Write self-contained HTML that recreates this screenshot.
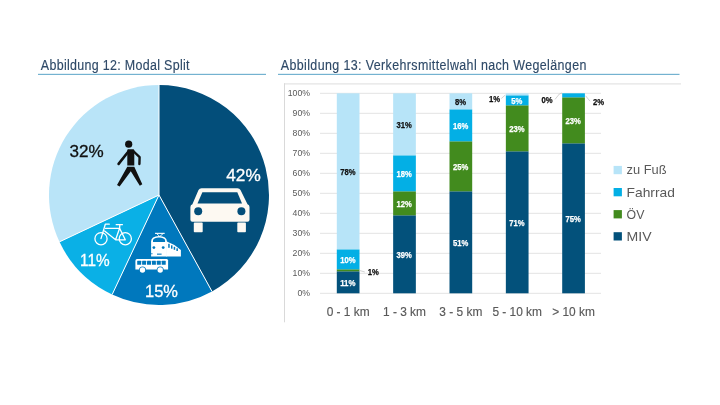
<!DOCTYPE html>
<html><head><meta charset="utf-8"><title>Modal Split</title>
<style>
html,body{margin:0;padding:0;background:#fff;}
body{width:720px;height:405px;overflow:hidden;}
svg{display:block;}
text{font-family:"Liberation Sans",Arial,sans-serif;}
</style></head><body>
<svg width="720" height="405" viewBox="0 0 720 405">
<rect width="720" height="405" fill="#fff"/>

<text transform="translate(40.8,69.6) scale(0.86,1)" x="0" y="0" font-size="14.5" fill="#2f4a68" stroke="#2f4a68" stroke-width="0.15" textLength="173.02" lengthAdjust="spacing">Abbildung 12: Modal Split</text>
<rect x="38" y="73.8" width="228" height="1.2" fill="#74b2d0"/>
<text transform="translate(280.8,69.6) scale(0.86,1)" x="0" y="0" font-size="14.5" fill="#2f4a68" stroke="#2f4a68" stroke-width="0.15" textLength="355.35" lengthAdjust="spacing">Abbildung 13: Verkehrsmittelwahl nach Wegelängen</text>
<rect x="278" y="73.8" width="401.5" height="1.2" fill="#74b2d0"/>
<path d="M159,195 L159.00,85.00 A110,110 0 0 1 211.99,291.39 Z" fill="#034e7a"/>
<path d="M159,195 L211.99,291.39 A110,110 0 0 1 112.16,294.53 Z" fill="#0078bd"/>
<path d="M159,195 L112.16,294.53 A110,110 0 0 1 59.47,241.84 Z" fill="#0ab0e6"/>
<path d="M159,195 L59.47,241.84 A110,110 0 0 1 159.00,85.00 Z" fill="#b9e4f8"/>
<line x1="159" y1="195" x2="159.00" y2="85.00" stroke="#fff" stroke-width="1"/>
<line x1="159" y1="195" x2="211.99" y2="291.39" stroke="#fff" stroke-width="1"/>
<line x1="159" y1="195" x2="112.16" y2="294.53" stroke="#fff" stroke-width="1"/>
<line x1="159" y1="195" x2="59.47" y2="241.84" stroke="#fff" stroke-width="1"/>
<text x="69.6" y="156.8" font-size="16.8" fill="#111" stroke="#111" stroke-width="0.3" textLength="34.2" lengthAdjust="spacingAndGlyphs">32%</text>
<text x="226.3" y="180.6" font-size="16.8" fill="#fff" stroke="#fff" stroke-width="0.3" textLength="34.4" lengthAdjust="spacingAndGlyphs">42%</text>
<text x="80.1" y="266.2" font-size="16.8" fill="#fff" stroke="#fff" stroke-width="0.3" textLength="29.6" lengthAdjust="spacingAndGlyphs">11%</text>
<text x="145.1" y="297.4" font-size="16.8" fill="#fff" stroke="#fff" stroke-width="0.3" textLength="32.9" lengthAdjust="spacingAndGlyphs">15%</text>
<g fill="#111" stroke="none">
<circle cx="128.7" cy="144.2" r="3.6"/>
<path d="M127.8,149.3 L133,149.3 Q134.2,149.3 134.3,150.6 L134.3,165.6 L127.3,165.6 L127.3,150 Z"/>
<path d="M127.3,166.7 L134.3,166.7 L142.3,184.3 L139.8,185.7 L130.8,171.2 L119.6,186.4 L117,184.9 Z"/>
</g>
<g fill="none" stroke="#111" stroke-linecap="round" stroke-linejoin="round">
<path d="M128.6,151.2 L118.6,163.9" stroke-width="2.6"/>
<path d="M133.2,151 L139.6,157.2 L139.4,164" stroke-width="2.4"/>
</g>
<g fill="#fdf9f2">
<path d="M201.5,188.2 L237.5,188.2 Q239.5,188.2 240.5,190 L247.5,204.2 Q249.5,205 249.5,207 L249.5,219.8 Q249.5,221.7 247.5,221.7 L192.4,221.7 Q190.4,221.7 190.4,219.8 L190.4,207 Q190.4,205 192.4,204.2 L198.5,190 Q199.5,188.2 201.5,188.2 Z"/>
<rect x="193.8" y="222.6" width="8.9" height="9.6" rx="0.8"/>
<rect x="237.3" y="222.6" width="8.6" height="9.6" rx="0.8"/>
</g>
<path d="M202.4,192.2 L237.3,192.2 L242,203.4 L197.5,203.4 Z" fill="#034e7a"/>
<circle cx="198.2" cy="211.3" r="4" fill="#034e7a"/>
<circle cx="241.4" cy="211.3" r="4" fill="#034e7a"/>

<g fill="none" stroke="#fff" stroke-width="1.3" stroke-linecap="round" stroke-linejoin="round">
<circle cx="101" cy="238.7" r="6.1"/>
<circle cx="125.3" cy="238.7" r="6.1"/>
<path d="M101,238.6 L105.3,224.2 L109.3,224.2"/>
<path d="M105.4,228.3 L119.5,228.3"/>
<path d="M104.6,231 L115.6,239.8 L125.3,239.8 L119.6,228.3 L115.6,239.8"/>
<path d="M119.6,228 L119.8,225"/>
<path d="M116.2,224.7 L122.4,224.7"/>
</g>
<g fill="#fff">
<rect x="155" y="232.8" width="9.7" height="1.1"/>
<path d="M156.5,233.5 L159.8,236.5 L163.2,233.5" fill="none" stroke="#fff" stroke-width="0.9"/>
<path d="M151.1,256.5 L151.1,241.5 Q151.1,236 159,235.9 Q166.9,236 166.9,241.5 L166.9,256.5 Z"/>
<path d="M166.3,241.5 L166.9,241.6 Q174,244 180.9,250 L180.9,256.5 L166.3,256.5 Z"/>
</g>
<path d="M153,242 L153,240 Q154,237.6 159,237.5 Q164,237.6 165.1,240 L165.1,242 Z" fill="#0078bd"/>
<circle cx="153.9" cy="247.6" r="1.4" fill="#0078bd"/>
<circle cx="163.2" cy="247.6" r="1.4" fill="#0078bd"/>
<rect x="157" y="253.6" width="4.6" height="1.1" fill="#0078bd"/>
<rect x="151" y="253.4" width="1.6" height="0.8" fill="#0078bd"/>
<g fill="#0078bd">
<rect x="168.2" y="243.8" width="1.5" height="4"/>
<rect x="171" y="245.3" width="1.5" height="3.4"/>
<rect x="173.7" y="246.8" width="1.5" height="3"/>
<rect x="176.4" y="248.3" width="1.5" height="2.7"/>
</g>

<path d="M137,259 L166.6,259 Q168.1,259 168.1,260.5 L168.1,269.5 L135.4,269.5 L135.4,260.8 Q135.6,259 137,259 Z" fill="#fff"/>
<g fill="#0078bd">
<rect x="137.20" y="260.8" width="4" height="4" rx="0.4"/>
<rect x="142.10" y="260.8" width="4" height="4" rx="0.4"/>
<rect x="147.00" y="260.8" width="4" height="4" rx="0.4"/>
<rect x="151.90" y="260.8" width="4" height="4" rx="0.4"/>
<rect x="156.80" y="260.8" width="4" height="4" rx="0.4"/>
<rect x="161.70" y="260.8" width="4" height="4" rx="0.4"/>
</g>
<circle cx="142.5" cy="270" r="3.5" fill="#0078bd"/><circle cx="160.2" cy="270" r="3.5" fill="#0078bd"/>
<circle cx="142.5" cy="270" r="2.7" fill="#fff"/><circle cx="160.2" cy="270" r="2.7" fill="#fff"/>
<rect x="284" y="83.3" width="397" height="1.2" fill="#e3e3e3"/>
<rect x="284" y="83.3" width="1" height="239" fill="#d9d9d9"/>
<rect x="320" y="292.8" width="281" height="1" fill="#e3e3e3"/>
<text x="310" y="296.3" font-size="8.7" fill="#595959" text-anchor="end">0%</text>
<rect x="320" y="272.8" width="281" height="1" fill="#e3e3e3"/>
<text x="310" y="276.3" font-size="8.7" fill="#595959" text-anchor="end">10%</text>
<rect x="320" y="252.8" width="281" height="1" fill="#e3e3e3"/>
<text x="310" y="256.3" font-size="8.7" fill="#595959" text-anchor="end">20%</text>
<rect x="320" y="232.8" width="281" height="1" fill="#e3e3e3"/>
<text x="310" y="236.3" font-size="8.7" fill="#595959" text-anchor="end">30%</text>
<rect x="320" y="212.8" width="281" height="1" fill="#e3e3e3"/>
<text x="310" y="216.3" font-size="8.7" fill="#595959" text-anchor="end">40%</text>
<rect x="320" y="192.8" width="281" height="1" fill="#e3e3e3"/>
<text x="310" y="196.3" font-size="8.7" fill="#595959" text-anchor="end">50%</text>
<rect x="320" y="172.8" width="281" height="1" fill="#e3e3e3"/>
<text x="310" y="176.3" font-size="8.7" fill="#595959" text-anchor="end">60%</text>
<rect x="320" y="152.8" width="281" height="1" fill="#e3e3e3"/>
<text x="310" y="156.3" font-size="8.7" fill="#595959" text-anchor="end">70%</text>
<rect x="320" y="132.8" width="281" height="1" fill="#e3e3e3"/>
<text x="310" y="136.3" font-size="8.7" fill="#595959" text-anchor="end">80%</text>
<rect x="320" y="112.8" width="281" height="1" fill="#e3e3e3"/>
<text x="310" y="116.3" font-size="8.7" fill="#595959" text-anchor="end">90%</text>
<rect x="320" y="92.8" width="281" height="1" fill="#e3e3e3"/>
<text x="310" y="96.3" font-size="8.7" fill="#595959" text-anchor="end">100%</text>
<rect x="336.80" y="271.30" width="22.7" height="22.00" fill="#03517b"/>
<rect x="336.80" y="269.30" width="22.7" height="2.00" fill="#428b1e"/>
<rect x="336.80" y="249.30" width="22.7" height="20.00" fill="#03afe5"/>
<rect x="336.80" y="93.30" width="22.7" height="156.00" fill="#b7e4f8"/>
<rect x="393.15" y="215.30" width="22.7" height="78.00" fill="#03517b"/>
<rect x="393.15" y="191.30" width="22.7" height="24.00" fill="#428b1e"/>
<rect x="393.15" y="155.30" width="22.7" height="36.00" fill="#03afe5"/>
<rect x="393.15" y="93.30" width="22.7" height="62.00" fill="#b7e4f8"/>
<rect x="449.50" y="191.30" width="22.7" height="102.00" fill="#03517b"/>
<rect x="449.50" y="141.30" width="22.7" height="50.00" fill="#428b1e"/>
<rect x="449.50" y="109.30" width="22.7" height="32.00" fill="#03afe5"/>
<rect x="449.50" y="93.30" width="22.7" height="16.00" fill="#b7e4f8"/>
<rect x="505.85" y="151.30" width="22.7" height="142.00" fill="#03517b"/>
<rect x="505.85" y="105.30" width="22.7" height="46.00" fill="#428b1e"/>
<rect x="505.85" y="95.30" width="22.7" height="10.00" fill="#03afe5"/>
<rect x="505.85" y="93.30" width="22.7" height="2.00" fill="#b7e4f8"/>
<rect x="562.20" y="143.30" width="22.7" height="150.00" fill="#03517b"/>
<rect x="562.20" y="97.30" width="22.7" height="46.00" fill="#428b1e"/>
<rect x="562.20" y="93.30" width="22.7" height="4.00" fill="#03afe5"/>
<text x="347.85" y="286.00" font-size="8.3" font-weight="bold" fill="#fff" stroke="#fff" stroke-width="0.25" text-anchor="middle" textLength="15.3" lengthAdjust="spacingAndGlyphs">11%</text>
<text x="347.85" y="263.00" font-size="8.3" font-weight="bold" fill="#fff" stroke="#fff" stroke-width="0.25" text-anchor="middle" textLength="15.3" lengthAdjust="spacingAndGlyphs">10%</text>
<text x="347.85" y="175.00" font-size="8.3" font-weight="bold" fill="#111" stroke="#111" stroke-width="0.25" text-anchor="middle" textLength="15.3" lengthAdjust="spacingAndGlyphs">78%</text>
<text x="404.20" y="258.00" font-size="8.3" font-weight="bold" fill="#fff" stroke="#fff" stroke-width="0.25" text-anchor="middle" textLength="15.3" lengthAdjust="spacingAndGlyphs">39%</text>
<text x="404.20" y="207.00" font-size="8.3" font-weight="bold" fill="#fff" stroke="#fff" stroke-width="0.25" text-anchor="middle" textLength="15.3" lengthAdjust="spacingAndGlyphs">12%</text>
<text x="404.20" y="177.00" font-size="8.3" font-weight="bold" fill="#fff" stroke="#fff" stroke-width="0.25" text-anchor="middle" textLength="15.3" lengthAdjust="spacingAndGlyphs">18%</text>
<text x="404.20" y="128.00" font-size="8.3" font-weight="bold" fill="#111" stroke="#111" stroke-width="0.25" text-anchor="middle" textLength="15.3" lengthAdjust="spacingAndGlyphs">31%</text>
<text x="460.55" y="246.00" font-size="8.3" font-weight="bold" fill="#fff" stroke="#fff" stroke-width="0.25" text-anchor="middle" textLength="15.3" lengthAdjust="spacingAndGlyphs">51%</text>
<text x="460.55" y="170.00" font-size="8.3" font-weight="bold" fill="#fff" stroke="#fff" stroke-width="0.25" text-anchor="middle" textLength="15.3" lengthAdjust="spacingAndGlyphs">25%</text>
<text x="460.55" y="129.00" font-size="8.3" font-weight="bold" fill="#fff" stroke="#fff" stroke-width="0.25" text-anchor="middle" textLength="15.3" lengthAdjust="spacingAndGlyphs">16%</text>
<text x="460.55" y="105.00" font-size="8.3" font-weight="bold" fill="#111" stroke="#111" stroke-width="0.25" text-anchor="middle" textLength="11.1" lengthAdjust="spacingAndGlyphs">8%</text>
<text x="516.90" y="226.00" font-size="8.3" font-weight="bold" fill="#fff" stroke="#fff" stroke-width="0.25" text-anchor="middle" textLength="15.3" lengthAdjust="spacingAndGlyphs">71%</text>
<text x="516.90" y="132.00" font-size="8.3" font-weight="bold" fill="#fff" stroke="#fff" stroke-width="0.25" text-anchor="middle" textLength="15.3" lengthAdjust="spacingAndGlyphs">23%</text>
<text x="516.90" y="104.00" font-size="8.3" font-weight="bold" fill="#fff" stroke="#fff" stroke-width="0.25" text-anchor="middle" textLength="11.1" lengthAdjust="spacingAndGlyphs">5%</text>
<text x="573.25" y="222.00" font-size="8.3" font-weight="bold" fill="#fff" stroke="#fff" stroke-width="0.25" text-anchor="middle" textLength="15.3" lengthAdjust="spacingAndGlyphs">75%</text>
<text x="573.25" y="124.00" font-size="8.3" font-weight="bold" fill="#fff" stroke="#fff" stroke-width="0.25" text-anchor="middle" textLength="15.3" lengthAdjust="spacingAndGlyphs">23%</text>
<text x="367.80" y="275.20" font-size="8.3" font-weight="bold" fill="#111" stroke="#111" stroke-width="0.25" text-anchor="start" textLength="11.1" lengthAdjust="spacingAndGlyphs">1%</text>
<path d="M359,270.3 L364.8,272" stroke="#b3b3b3" stroke-width="0.6" fill="none"/>
<text x="489.00" y="102.30" font-size="8.3" font-weight="bold" fill="#111" stroke="#111" stroke-width="0.25" text-anchor="start" textLength="11.1" lengthAdjust="spacingAndGlyphs">1%</text>
<path d="M501.3,98.5 L505.3,95" stroke="#b3b3b3" stroke-width="0.6" fill="none"/>
<text x="541.60" y="103.20" font-size="8.3" font-weight="bold" fill="#111" stroke="#111" stroke-width="0.25" text-anchor="start" textLength="11.1" lengthAdjust="spacingAndGlyphs">0%</text>
<path d="M555,99.4 L559.4,94 L562,93" stroke="#b3b3b3" stroke-width="0.6" fill="none"/>
<text x="593.00" y="104.90" font-size="8.3" font-weight="bold" fill="#111" stroke="#111" stroke-width="0.25" text-anchor="start" textLength="11.1" lengthAdjust="spacingAndGlyphs">2%</text>
<path d="M585.6,95.8 L590,101.2" stroke="#b3b3b3" stroke-width="0.6" fill="none"/>
<text x="348.15" y="315.8" font-size="11.9" fill="#595959" stroke="#595959" stroke-width="0.15" text-anchor="middle">0 - 1 km</text>
<text x="404.50" y="315.8" font-size="11.9" fill="#595959" stroke="#595959" stroke-width="0.15" text-anchor="middle">1 - 3 km</text>
<text x="460.85" y="315.8" font-size="11.9" fill="#595959" stroke="#595959" stroke-width="0.15" text-anchor="middle">3 - 5 km</text>
<text x="517.20" y="315.8" font-size="11.9" fill="#595959" stroke="#595959" stroke-width="0.15" text-anchor="middle">5 - 10 km</text>
<text x="573.55" y="315.8" font-size="11.9" fill="#595959" stroke="#595959" stroke-width="0.15" text-anchor="middle">&gt; 10 km</text>
<rect x="613.6" y="165.9" width="8.3" height="8.3" fill="#b7e4f8"/>
<text x="626.6" y="174.4" font-size="13.2" fill="#595959" textLength="40" lengthAdjust="spacingAndGlyphs">zu Fuß</text>
<rect x="613.6" y="188.0" width="8.3" height="8.3" fill="#03afe5"/>
<text x="626.6" y="196.5" font-size="13.2" fill="#595959" textLength="48.3" lengthAdjust="spacingAndGlyphs">Fahrrad</text>
<rect x="613.6" y="210.1" width="8.3" height="8.3" fill="#428b1e"/>
<text x="626.6" y="218.6" font-size="13.2" fill="#595959" textLength="17.8" lengthAdjust="spacingAndGlyphs">ÖV</text>
<rect x="613.6" y="232.2" width="8.3" height="8.3" fill="#03517b"/>
<text x="626.6" y="240.7" font-size="13.2" fill="#595959" textLength="25" lengthAdjust="spacingAndGlyphs">MIV</text>
</svg></body></html>
